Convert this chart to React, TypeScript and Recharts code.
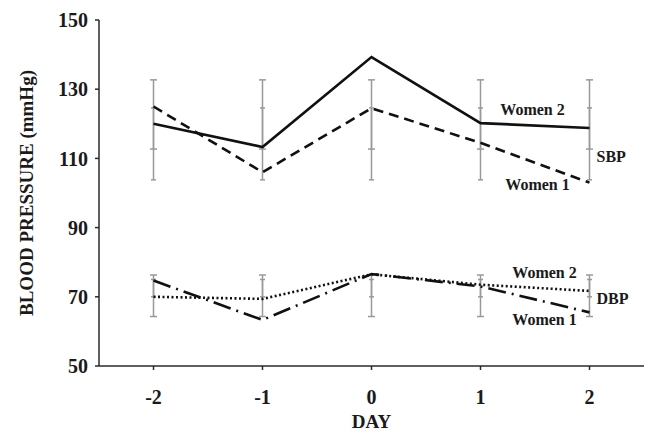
import { LineChart, Line, XAxis, YAxis, ErrorBar, LabelList } from 'recharts';

const days = [-2, -1, 0, 1, 2];
const sbpWomen1 = [125, 106, 124.5, 114.5, 103];
const sbpWomen2 = [120, 113.3, 139.3, 120.2, 118.8];
const dbpWomen1 = [74.7, 63.3, 76.6, 73, 65.5];
const dbpWomen2 = [70, 69.4, 76.5, 73.5, 71.7];

// overlapping error bars drawn at every day
const sbpBarA = [122.7, 122.7, 122.7, 122.7, 122.7];
const sbpErrA = [10, 10, 10, 10, 10];
const sbpBarB = [114.2, 114.2, 114.2, 114.2, 114.2];
const sbpErrB = [10.4, 10.4, 10.4, 10.4, 10.4];
const dbpBarA = [70.3, 70.3, 70.3, 70.3, 70.3];
const dbpErrA = [6, 6, 6, 6, 6];
const dbpBarB = [72.5, 72.5, 72.5, 72.5, 72.5];
const dbpErrB = [2.5, 2.5, 2.5, 2.5, 2.5];

const yTicks = [50, 70, 90, 110, 130, 150];
const xTicks = [-2, -1, 0, 1, 2];

const data = days.map((day, i) => ({
  day,
  sbp1: sbpWomen1[i],
  sbp2: sbpWomen2[i],
  dbp1: dbpWomen1[i],
  dbp2: dbpWomen2[i],
  sbpA: sbpBarA[i],
  sbpEA: sbpErrA[i],
  sbpB: sbpBarB[i],
  sbpEB: sbpErrB[i],
  dbpA: dbpBarA[i],
  dbpEA: dbpErrA[i],
  dbpB: dbpBarB[i],
  dbpEB: dbpErrB[i],
}));

const FONT = '"Liberation Serif", "Times New Roman", serif';
const AXIS = '#2a2a2a';
const BAR = '#999';

// text placed next to the last point of a series
const endLabel = (text: string, dx: number, dy: number, anchor = 'middle') => (props: any) => {
  if (props.index !== days.length - 1) return null;
  return (
    <text
      x={props.x + dx}
      y={props.y + dy}
      textAnchor={anchor}
      dominantBaseline="central"
      fontFamily={FONT}
      fontWeight="bold"
      fontSize={16}
      fill="#1a1a1a"
    >
      {text}
    </text>
  );
};

function bar(key: string, errKey: string, capWidth: number) {
  return (
    <Line
      key={key}
      dataKey={key}
      stroke="none"
      dot={false}
      activeDot={false}
      isAnimationActive={false}
    >
      <ErrorBar dataKey={errKey} direction="y" width={capWidth} stroke={BAR} strokeWidth={1.5} />
    </Line>
  );
}

export default function App() {
  return (
    <div style={{ position: 'absolute', left: 0, top: 0, background: '#fff' }}>
      <LineChart width={649} height={434} data={data} margin={{ top: 20, right: 5, bottom: 0, left: 0 }}>
        <XAxis
          dataKey="day"
          type="number"
          domain={[-2.5, 2.5]}
          ticks={xTicks}
          height={68}
          stroke={AXIS}
          strokeWidth={1.5}
          tickSize={4}
          tickMargin={20}
          tick={{ fontFamily: FONT, fontWeight: 'bold', fontSize: 20, fill: '#1a1a1a' }}
          label={{
            value: 'DAY',
            position: 'insideBottom',
            offset: 6,
            style: { fontFamily: FONT, fontWeight: 'bold', fontSize: 19, fill: '#1a1a1a' },
          }}
        />
        <YAxis
          type="number"
          domain={[50, 150]}
          ticks={yTicks}
          width={99}
          stroke={AXIS}
          strokeWidth={1.5}
          tickSize={4}
          tickMargin={7}
          tick={{ fontFamily: FONT, fontWeight: 'bold', fontSize: 20, fill: '#1a1a1a' }}
          label={{
            content: (p: any) => {
              const vb = p.viewBox || {};
              const cy = (vb.y ?? 20) + (vb.height ?? 346) / 2;
              return (
                <text
                  x={26}
                  y={cy}
                  transform={`rotate(-90, 26, ${cy})`}
                  textAnchor="middle"
                  dominantBaseline="central"
                  fontFamily={FONT}
                  fontWeight="bold"
                  fontSize={19}
                  fill="#1a1a1a"
                >
                  BLOOD PRESSURE (mmHg)
                </text>
              );
            },
          }}
        />
        {bar('sbpA', 'sbpEA', 3.5)}
        {bar('sbpB', 'sbpEB', 2.5)}
        {bar('dbpA', 'dbpEA', 3.5)}
        {bar('dbpB', 'dbpEB', 2.5)}
        <Line dataKey="sbp2" stroke="#111" strokeWidth={2.6} dot={false} activeDot={false} isAnimationActive={false}>
          <LabelList dataKey="sbp2" content={endLabel('Women 2', -57, -18)} />
          <LabelList dataKey="sbp2" content={endLabel('SBP', 7, 29, 'start')} />
        </Line>
        <Line
          dataKey="sbp1"
          stroke="#111"
          strokeWidth={2.6}
          strokeDasharray="10 6"
          dot={false}
          activeDot={false}
          isAnimationActive={false}
        >
          <LabelList dataKey="sbp1" content={endLabel('Women 1', -52, 2)} />
        </Line>
        <Line
          dataKey="dbp2"
          stroke="#111"
          strokeWidth={2.6}
          strokeDasharray="2 2.5"
          dot={false}
          activeDot={false}
          isAnimationActive={false}
        >
          <LabelList dataKey="dbp2" content={endLabel('Women 2', -45, -18)} />
          <LabelList dataKey="dbp2" content={endLabel('DBP', 7, 8, 'start')} />
        </Line>
        <Line
          dataKey="dbp1"
          stroke="#111"
          strokeWidth={2.6}
          strokeDasharray="18 6 2 6"
          dot={false}
          activeDot={false}
          isAnimationActive={false}
        >
          <LabelList dataKey="dbp1" content={endLabel('Women 1', -45, 7)} />
        </Line>
      </LineChart>
    </div>
  );
}
